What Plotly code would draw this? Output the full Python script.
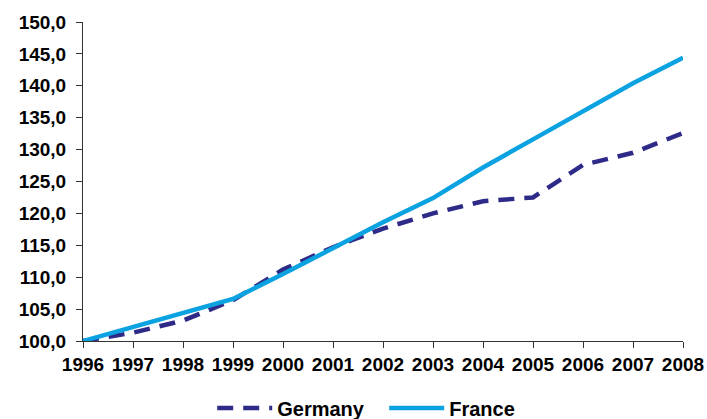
import plotly.graph_objects as go

years = [1996, 1997, 1998, 1999, 2000, 2001, 2002, 2003, 2004, 2005, 2006, 2007, 2008]
germany = [100.0, 101.3, 103.2, 106.4, 111.2, 114.7, 117.6, 120.0, 121.9, 122.5, 127.6, 129.5, 132.6]
france = [100.0, 102.2, 104.4, 106.6, 110.5, 114.5, 118.6, 122.4, 127.2, 131.6, 136.0, 140.4, 144.4]
y_ticks = [100, 105, 110, 115, 120, 125, 130, 135, 140, 145, 150]

FAM = "Liberation Sans, Arial, sans-serif"

fig = go.Figure()
fig.add_trace(go.Scatter(
    x=years, y=germany, name="Germany", mode="lines",
    line=dict(color="#2E2A87", width=4.5, dash="16px,10px"),
))
fig.add_trace(go.Scatter(
    x=years, y=france, name="France", mode="lines",
    line=dict(color="#0AA2E0", width=4.5),
))

fig.update_layout(
    width=707, height=419,
    margin=dict(l=83, r=24, t=22, b=78),
    paper_bgcolor="white", plot_bgcolor="white",
    separators=", ",
    font=dict(family=FAM, size=19, color="#000000"),
    showlegend=True,
    legend=dict(
        orientation="h", x=0.502, xanchor="center",
        yref="container", y=0.026, yanchor="middle",
        font=dict(family=FAM, size=20, color="#000000", weight="bold"),
        itemwidth=55, entrywidth=102, entrywidthmode="pixels", bgcolor="rgba(0,0,0,0)",
    ),
    xaxis=dict(
        range=[1996, 2008], tickmode="array", tickvals=years, ticktext=[str(y) for y in years],
        showgrid=False, zeroline=False, showline=True, linecolor="#333333", linewidth=1,
        ticks="outside", ticklen=6, tickcolor="#333333", automargin=False,
        tickfont=dict(family=FAM, size=19, color="#000000", weight="bold"),
    ),
    yaxis=dict(
        range=[100, 150], tickmode="array", tickvals=y_ticks, tickformat=".1f",
        showgrid=False, zeroline=False, showline=True, linecolor="#333333", linewidth=1,
        ticks="outside", ticklen=6, tickcolor="#333333", ticklabelstandoff=6, automargin=False,
        tickfont=dict(family=FAM, size=19, color="#000000", weight="bold"),
    ),
)

fig.write_html(
    "out.html",
    config={"displayModeBar": False},
    post_script="document.body.style.margin='0px';document.body.style.overflow='hidden';",
)
